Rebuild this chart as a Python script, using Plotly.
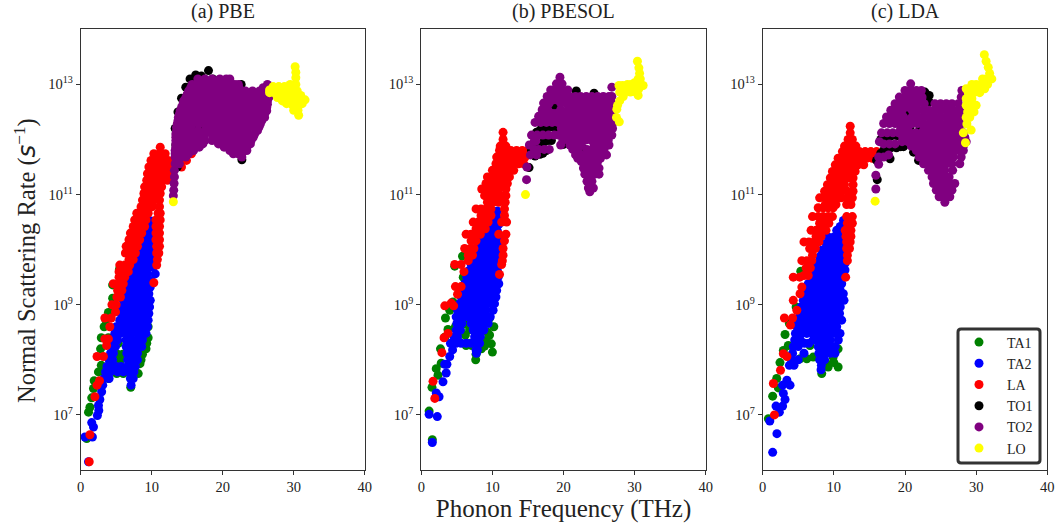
import plotly.graph_objects as go

# Each list holds rows: (log10 of rate, [frequencies in THz])
PBE_TA1 = [(6.57,[0.85]),(7.05,[1.1]),(7.14,[1.3]),(7.31,[1.55]),(7.48,[1.8]),(7.62,[1.9]),(7.78,[2.5,3.2]),(7.9,[2.9]),
 (8.2,[2.8,9.2]),(8.4,[2.9,3.9,9.5]),(8.6,[3.3,9.5]),(8.72,[3.55]),(8.86,[3.9,4.2]),(9.12,[4.5,4.8]),(9.36,[4.5,5]),(9.64,[5.45]),
 (7.66,[3.9]),(7.75,[5.07,6,8.1]),(7.5,[7.05]),(7.93,[8.35,5.4]),(8.1,[5.2,5.9,8.7]),(8.0,[5.6,8.5]),(8.3,[5.3,8.7,9.3])]
PBE_TA2 = [(10.52,[9.9]),(10.4,[9.4,9.9]),(10.28,[9,9.7]),(10.16,[8.6,9.4,10]),(10.04,[8.2,9,9.8]),(9.92,[7.9,8.7,9.5,10]),
 (9.8,[7.6,8.4,9.2,10]),(9.68,[7.2,8,8.8,9.6,10.2]),(9.56,[7,7.8,8.6,9.4,10.5]),(9.44,[6.8,7.6,8.4,9.2,9.9]),
 (9.32,[6.6,7.4,8.2,9,9.8]),(9.2,[6.3,7.1,7.9,8.7,9.6]),(9.08,[6,6.8,7.6,8.4,9.3,9.8]),(8.96,[5.8,6.6,7.4,8.2,9,9.7]),
 (8.84,[5.7,6.5,7.3,8.1,8.9,9.6]),(8.72,[5.5,6.3,7.1,7.9,8.7,9.5]),(8.6,[5,5.8,6.6,7.4,8.2,9,9.4]),
 (8.48,[4.8,5.6,6.4,7.2,8,8.8,9.2]),(8.36,[4.6,5.2,6.4,7.2,8,8.7]),(8.24,[4.4,4.9,6.4,7.1,7.9,8.6]),(8.12,[4.2,4.6,6.5,7.2,8]),
 (8.0,[4,4.5,6.6,7.3,8]),(7.88,[3.7,4.3,5,5.7,6.6,7.2,7.7]),(7.78,[3.5,4.2,5.2,6,6.8,7.5]),(7.66,[3.3,4,7,7.4]),(7.54,[3.1,7.1]),
 (7.42,[2.95]),(7.28,[2.7]),(7.17,[2.5]),(7.08,[2.55]),(6.99,[2.35]),(6.86,[1.55]),(6.78,[1.8]),(6.6,[0.6,1.65]),(6.15,[1.1])]
PBE_LA = [(11.86,[11.2]),(11.74,[10.3,11.1,11.9,15.6]),(11.62,[9.9,10.7,11.5,12.3,13,14.9]),(11.5,[9.6,10.4,11.2,12,12.8,14.2]),
 (11.38,[9.4,10.2,11,11.8,12.5]),(11.26,[9.3,10,10.8,11.6,12.2]),(11.14,[9,9.8,10.6,11.4]),(11.02,[8.9,9.7,10.5,11.2]),
 (10.9,[8.7,9.5,10.3,11.1]),(10.78,[8.5,9.3,10.1,11.1]),(10.66,[7.9,8.7,9.5,10.9,11.2]),(10.54,[7.6,8.4,9.2,10.6,11.2]),
 (10.42,[7.4,8.2,9,10.6,11.1]),(10.3,[7,7.8,8.6,10.6,11.1]),(10.18,[6.8,7.6,8.3,10.6,11.1]),(10.06,[6.4,7.2,8,10.7,11.1]),
 (9.94,[6.3,7,7.7,10.7,11]),(9.82,[6.8,7.4,10.8]),(9.72,[5.5,6.2,6.9,10.7]),(9.6,[5.4,6.1,6.7]),(9.5,[5.4,6.2]),
 (9.38,[4.6,5.5,6]),(9.4,[10.3]),(9.26,[5.2,5.8]),(9.14,[5.1,5.6]),(9.0,[4.4,5]),(8.87,[4.9]),(8.76,[3.4,4.3]),(8.6,[4.1]),
 (8.38,[3.4,3.9]),(8.26,[3.65]),(8.06,[2.3,3.2]),(7.62,[2.65]),(7.54,[2.3]),(7.33,[2]),(6.64,[1.3]),(6.15,[1.2])]
PBE_TO1 = [(12.2,[13.3,16.3]),(12.5,[13.7]),(12.75,[14.2]),(12.95,[14.8]),(13.1,[15.4,18.6]),(13.17,[16.2]),(13.15,[17]),(13.25,[18]),
 (13.08,[19.5]),(13.0,[22.6]),(11.63,[22.7]),(11.9,[13.4]),(11.5,[13.6]),(12.25,[17])]
PBE_TO2 = [(13.1,[16.5,17.5,18.5,19.6,20.5,21]),(13.0,[15.7,16.7,17.7,18.7,19.7,20.7,21.7,22.2,26.3]),
 (12.88,[15.2,16.2,17.2,18.2,19.2,20.2,21.2,22.2,23.2,24.2,25.2,26.2,26.7]),
 (12.76,[14.8,15.8,16.8,17.8,18.8,19.8,20.8,21.8,22.8,23.8,24.8,25.8,26.5]),
 (12.64,[14.4,15.4,16.4,17.4,18.4,19.4,20.4,21.4,22.4,23.4,24.4,25.4,26.3]),
 (12.52,[14,15,16,17,18,19,20,21,22,23,24,25,26.2]),
 (12.4,[13.75,14.7,15.7,16.7,17.7,18.7,19.7,20.7,21.7,22.7,23.7,24.7,25.9]),
 (12.28,[13.6,14.6,15.6,16.6,17.6,18.6,19.6,20.6,21.6,22.6,23.6,24.6,25.3]),
 (12.16,[13.5,14.5,15.5,16.5,17.5,18.5,19.5,20.5,21.5,22.5,23.5,24.9]),
 (12.04,[13.4,14.4,15.4,16.4,17.4,18.7,19.7,20.7,21.7,22.7,23.7,24.3]),
 (11.92,[13.4,14.3,15.2,16.2,17.2,19.4,20.4,21.4,22.4,23.4,23.9]),
 (11.8,[13.3,14.1,15,15.9,21,22,23.4]),(11.68,[13.3,14,14.8,22.7]),(11.56,[13.3,13.9]),(11.44,[13.2]),(11.32,[13.2]),
 (11.2,[13.15]),(11.08,[13.1]),(10.98,[13.05]),
 (13.06,[17,18,19,20,20.5]),(12.94,[15.5,16.5,17.5,18.5,19.5,20.5,21.5,22.3,25.7,26.5]),
 (12.82,[15,16,17,18,19,20,21,22,23,24,25,26,26.6]),
 (12.7,[14.5,15.5,16.5,17.5,18.5,19.5,20.5,21.5,22.5,23.5,24.5,25.5,26.3]),
 (12.58,[14.2,15.2,16.2,17.2,18.2,19.2,20.2,21.2,22.2,23.2,24.2,25.2,26.2]),
 (12.46,[13.9,14.9,15.9,16.9,17.9,18.9,19.9,20.9,21.9,22.9,23.9,24.9,25.9]),
 (12.34,[13.7,14.7,15.7,16.7,17.7,18.7,19.7,20.7,21.7,22.7,23.7,24.7,25.5]),
 (12.22,[13.5,14.5,15.5,17.7,18.5,19.5,20.5,21.5,22.5,23.5,24.5,25.1]),
 (12.1,[13.4,14.5,15.5,16.5,17.5,18.5,19.5,20.5,21.5,22.5,23.5,24.5]),
 (11.98,[13.4,14.5,15.5,16.5,17.5,18.5,19.5,20.5,21.5,22.5,23.5,24]),
 (11.86,[13.4,14.2,15.2,15.9,16.7,20.2,21,21.8,22.6,23.4]),(11.74,[13.3,14.3,15.2,21.5,22.2,22.7])]
PBE_LO = [(13.32,[30.2]),(13.22,[30.3]),(13.12,[30.3]),(13.0,[30.3,29.5]),(12.96,[28.7,27.9,27.1]),(12.9,[26.6,27.5,28.3,29.1,30]),
 (12.85,[26.6,27.2,28,28.8]),(12.88,[29.6,30.5]),(12.8,[31,29.7,30.3]),(12.72,[31.6,30.8,30.3]),(12.76,[27.7,28.5]),(12.75,[29.3,30]),
 (12.7,[28.4,29.1]),(12.65,[29,31.2]),(12.63,[29.8,30.6]),(12.58,[30.3]),(12.53,[30,30.6]),(12.44,[30.7]),(10.87,[13.05])]

SOL_TA1 = [(7.07,[1.1]),(6.55,[1.55]),(7.5,[1.5]),(7.84,[2.1]),(7.72,[2.35]),(7.94,[2.8]),(8.2,[2.7,8.45]),(8.41,[3.3]),(8.55,[3.75,6.8]),
 (8.76,[3.4,9.6]),(8.9,[4]),(9.05,[4.45]),(9.7,[4.7]),(9.88,[5.8]),(8.34,[5.2]),(8.26,[6.3,7.1]),(8.0,[7.65]),(8.35,[9.15,8.6]),
 (8.14,[10]),(8.29,[9.85]),(8.6,[10.2]),(8.65,[6.1]),(9.5,[5.9]),(8.5,[9.3,5.6]),(8.45,[9.6,6.2]),(8.25,[8.9]),(8.1,[7.7]),(8.3,[6.9]),(8.6,[4.8])]
SOL_TA2 = [(10.7,[10.7]),(10.58,[10.1,10.7]),(10.46,[9.6,10.4,10.9]),(10.34,[9.1,9.9,10.7]),(10.22,[8.7,9.5,10.3,10.9]),
 (10.1,[8.1,8.9,9.7,10.5,11]),(9.98,[7.7,8.5,9.3,10.1,10.9]),(9.86,[7.3,8.1,8.9,9.7,10.5,10.9]),(9.74,[7,7.8,8.6,9.4,10.2,10.8]),
 (9.62,[6.7,7.5,8.3,9.1,9.9,10.7]),(9.5,[6.4,7.2,8,8.8,9.6,10.4,10.8]),(9.38,[6.1,6.9,7.7,8.5,9.3,10.1,10.9]),
 (9.26,[5.9,6.7,7.5,8.3,9.1,9.9,10.6]),(9.14,[5.6,6.4,7.2,8,8.8,9.6,10.5]),(9.02,[5.4,6.2,7,7.8,8.6,9.4,10.3]),
 (8.9,[5.1,5.9,6.7,7.5,8.3,9.1,10.1]),(8.78,[4.9,5.7,6.5,7.3,8.1,8.9,9.7]),(8.66,[5,5.7,7,7.8,8.6,9.4]),(8.54,[4.9,5.5,7.3,8,8.8]),
 (8.42,[4.6,5.1,7.5,8.3]),(8.3,[4.1,4.9,5.6,6.3,7,7.6,8.2]),(8.18,[4.4,7.7,7.9]),(8.12,[7.75]),(8.06,[4]),(7.92,[3.3,3.6]),
 (7.76,[3.5]),(7.6,[3.05]),(7.4,[2.1]),(7.33,[2.5]),(7.01,[1.1]),(6.97,[2.25]),(6.5,[1.55])]
SOL_LA = [(12.13,[11.5]),(12.0,[11.5]),(11.88,[11.1,11.9]),(11.8,[11,11.8,12.6,13.4,14.2,15]),(11.68,[10.6,11.4,12.2,13,13.8,14.6]),
 (11.56,[10.5,11.3,12.1,12.9,13.7,14.4]),(11.44,[10,10.8,11.6,12.4,13]),(11.32,[9.3,10.1,10.9,11.7,12.4]),(11.2,[9.1,9.9,10.7,11.5,12.1]),
 (11.1,[8.5,9.3,10.1,10.9,11.9]),(10.98,[8.9,9.7,10.5,11.2,11.9]),(10.86,[9.3,10.1,10.9,11.8]),(10.74,[7.7,8.4,9.1,9.8,11.7]),
 (10.62,[8.4,9.1,9.8,11.7]),(10.5,[7.3,8,8.8,9.4,11.3,12]),(10.38,[7.7,8.4,9]),(10.28,[6.3,7,7.7,8.3,10.9,11.9]),(10.16,[7,7.7,11.7]),
 (10.02,[6.1,6.9,7.4,11.5]),(9.9,[6.6,7.2,11.5]),(9.8,[6.6,11.4]),(9.73,[4.7,5.6,11.3]),(9.6,[6]),(9.55,[11]),(9.33,[4.8,5.6]),
 (9.19,[5.1]),(9.03,[4.2]),(8.98,[3.3,4.55]),(8.48,[3.75]),(8.4,[3.2]),(8.13,[2.9]),(7.61,[1.65]),(7.3,[1.9])]
SOL_TO1 = [(12.07,[15.7]),(12.13,[16.2]),(12.17,[16.7,17.2]),(12.23,[17.8,18.3]),(12.21,[18.8]),(11.8,[15.5,17.6]),(11.86,[16.1]),(11.92,[16.7]),
 (11.95,[17.2]),(11.98,[17.8,18.3]),(11.73,[16.7]),(11.75,[17.1]),(11.7,[16]),(11.91,[20]),(12.88,[21.8]),(12.84,[24.3]),(11.83,[22.8]),
 (12.04,[23.7]),(12.58,[18.8]),(12.55,[19.2]),(12.44,[20]),(11.49,[15.15])]
SOL_TO2 = [(13.13,[19.5]),(13.01,[19,19.8]),(12.9,[18.2,19,19.8,20.6]),(12.95,[26.8]),
 (12.78,[17.7,18.5,19.3,20.1,20.9,21.7,22.4,23.2,24,24.8,25.6,26.4,26.8]),(12.72,[18.6,19]),
 (12.66,[17.2,18,19.6,20.4,21.2,22,22.8,23.6,24.4,25.2,26,26.8]),
 (12.54,[17,17.8,19.6,20.6,21.4,22.2,23,23.8,24.6,25.4,26.2,26.9]),(12.47,[18.5,19,20.1]),
 (12.42,[16.5,17.3,18.1,18.9,20.7,21.5,22.3,23.1,23.9,24.7,25.5,26.3,27]),(12.38,[19.6,20.2]),
 (12.31,[16,16.8,17.6,18.4,19.2,20,20.8,21.6,22.4,23.2,24,24.8,25.6,26.4,27]),
 (12.08,[15.5,16.3,17.1,17.9,18.7,19.3,20.1,20.9,21.7,22.5,23.3,24.1,24.9,25.7,26.5,26.8]),
 (12.2,[19.7,20.5,21.3,22.1,22.9,23.7,24.5,25.3,26.1,26.9]),(11.99,[19.9,20.7,21.5,22.3,23.1,23.9,24.7,25.5,26.3]),
 (11.9,[15.2,19.6,20.9,21.7,22.5,24.3,25.1,25.9,26.4]),(11.97,[15.9,16.1]),(11.82,[15.9,16.5,17.3,18,21.3,22.1,23.3,24.1,24.9,25.7]),
 (11.72,[15.35,16.2,21.7,22.5,23.3,24.1,25,26.05]),(11.66,[22,22.8,23.6,24.4,25.2]),(11.6,[22.5,23.3,24.1,24.8]),(11.48,[22.8,23.5,24.2,25]),
 (11.37,[23,23.7,24.4,25]),(11.24,[23.3,24]),(11.12,[23.5,24.2]),(11.05,[23.7]),(11.5,[14.85]),(11.27,[14.8])]
SOL_LO = [(13.42,[30.4]),(13.3,[30.6]),(13.2,[30.7]),(13.1,[30.8,30.5]),(12.98,[31.2,27.8,28.3]),(13.0,[30.7,29.5,29]),(13.03,[30]),
 (12.92,[28.2,29,29.8,30.6]),(12.86,[27.9,28.6,29.4,30.2]),(12.8,[30.5]),(12.78,[28.4]),(12.7,[27.9]),(12.62,[27.6]),(12.55,[27.5]),
 (12.4,[27.45]),(12.32,[27.85]),(11.0,[14.65])]

LDA_TA1 = [(6.93,[0.8]),(7.34,[1.4]),(7.49,[2.2]),(7.66,[1.97]),(7.95,[2.43]),(8.17,[2.9]),(8.46,[3.14]),(8.26,[3.6,6.65]),(8.66,[3.75]),
 (8.96,[4.7]),(9.61,[5.35]),(9.2,[5.7]),(7.75,[8.3]),(8.02,[5.25,6.2]),(8.05,[7.1,9.9]),(7.87,[9.2,10.6]),(8.2,[10.6]),(7.95,[10,8.9])]
LDA_TA2 = [(10.53,[11.35]),(10.42,[10.9]),(10.35,[10.4,11.2]),(10.23,[9.2,10,10.8,11.3]),(10.11,[8.9,9.7,10.5,11.3]),
 (9.99,[8.3,9.1,9.9,10.7,11.5]),(9.87,[8,8.8,9.6,10.4,11.2,11.57]),(9.75,[7.35,8.1,8.9,9.7,10.5,11.3,11.57]),
 (9.63,[7.1,7.9,8.7,9.5,10.3,11.1,11.57]),(9.51,[6.8,7.6,8.4,9.2,10,10.8,11.3]),(9.38,[6.4,7.2,8,8.8,9.6,10.4,11.1]),
 (9.26,[6.1,6.9,7.7,8.5,9.3,10.1,10.9]),(9.2,[11.33]),(9.17,[6,6.8,7.6,8.4,9.2,10,10.8]),(9.08,[5.7,6.5,7.3,8.1,8.9,9.7,10.5,11.43]),
 (8.96,[5.4,6.2,7,7.8,8.6,9.4,10.2,10.9]),(8.84,[5.2,6,6.8,7.6,8.4,9.2,10,10.8]),(8.72,[4.9,5.7,6.5,7.3,8.1,8.9,9.7,10.5,11.1]),
 (8.6,[4.8,5.6,6.4,7.2,8,8.8,9.6,10.4]),(8.48,[4.6,5.4,6.2,7,7.8,8.6,9.4,10.2,10.87]),(8.36,[4.5,5.3,7.1,7.9,8.7,9.5,10.63]),
 (8.3,[5.9,6.5]),(8.24,[4.3,5,7.8,8.6,9.4,10.2]),(8.12,[4.2,5.8,7.9,8.7,9.5,10.16]),(8.0,[4.07,5,8,8.7]),(7.9,[3.75,4.4,8.25]),(7.82,[8.2]),
 (7.63,[3.4]),(7.54,[2.8,3.84]),(7.39,[2.9]),(7.28,[3.14]),(7.16,[1.87,2.8]),(7.05,[2.34]),(6.89,[1]),(6.66,[2]),(6.32,[1.4])]
LDA_LA = [(12.24,[12.3]),(12.12,[12.3]),(12.0,[12,12.6]),(11.88,[11.5,12.3,13.1]),(11.78,[11.2,12,12.8,13.6,14.4,15.2,16]),
 (11.66,[10.6,11.4,12.2,13,13.8,14.6,15.4]),(11.54,[10.2,11,11.8,12.6,13.4,14.2]),(11.42,[9.8,10.6,11.4,12.2,13]),
 (11.3,[9.5,10.3,11.1,11.9,12.7]),(11.18,[9.1,9.9,10.7,11.5,12.7]),(11.06,[8.7,9.5,10.3,11.1,11.9,12.7]),
 (10.94,[8,8.8,9.6,10.4,11,11.9,12.6]),(10.82,[8.8,9.6,10.3,11.8,12.4]),(10.76,[7.8,8.5,9.2,9.9]),(10.6,[7,7.8,8.5,9.2,9.8,11.8,12.6]),
 (10.48,[8,8.7,9.3,11.9,12.6]),(10.35,[6.8,7.5,8.2,8.9,11.6,12.4]),(10.24,[7.5,8.2,11.7,12.4]),(10.14,[5.8,6.5,7.2,7.9,11.8,12.3]),
 (10.02,[6.6,7.4,11.8,12.2]),(9.9,[7,11.9]),(9.8,[5.5,6.2,6.9,11.9]),(9.67,[6.1,6.7]),(9.53,[5.8,6.4]),(9.5,[4.3,5.2,11.66]),(9.32,[5.5]),
 (9.2,[5.25]),(9.08,[4.3]),(8.9,[4.8]),(8.76,[3.05,4.2]),(8.63,[3.9]),(8.11,[2.9]),(8.06,[3.4]),(7.81,[2.5]),(7.57,[1.5]),(7.0,[1.65])]
LDA_TO1 = [(12.8,[23.4]),(12.68,[23.4]),(12.86,[22.8]),(11.27,[16.1]),(11.62,[16,21.9]),(12.04,[17.4]),(12.0,[16.6]),(12.02,[17]),(12.06,[18,19.2]),
 (12.07,[18.8]),(11.83,[17.4]),(11.75,[16.6]),(11.8,[17]),(11.85,[18,18.8]),(11.87,[19.8,19.4]),(11.65,[17.9]),(11.77,[21.2]),(12.47,[20.5]),
 (12.23,[20.7]),(12.21,[22.1])]
LDA_TO2 = [(13.01,[20.8]),(12.89,[20,20.8,21.6,22.3,28]),(12.77,[19.2,20,20.8,21.6,22.4,27.9]),
 (12.65,[18.6,19.4,20.2,21,21.8,22.7,24.2,25,25.8,26.6,27.5]),(12.59,[20.4]),
 (12.53,[18,18.8,19.6,21,21.8,22.6,23.4,24.2,25,25.8,26.6,27.4,28]),
 (12.41,[17.4,18.2,19,19.8,21,21.8,22.6,23.4,24.2,25,25.8,26.6,27.4,28]),(12.35,[20.4]),
 (12.29,[17,17.8,18.6,19.4,20.2,21,21.8,22.6,23.4,24.2,25,25.8,26.6,27.4,28]),
 (12.2,[19.4,20,20.4,22.7,23.5,24.3,25.1,25.9,26.7,27.5]),
 (12.12,[16.7,17.5,18.3,19.1,19.9,20.7,21.5,22.3,23.1,23.9,24.7,25.5,26.3,27.1,27.9,28.2]),
 (12.04,[19.7,20.5,21.3,22.1,22.9,23.7,24.5,25.3,26.1,26.9,27.7,28.4]),
 (11.96,[16.4,19.6,20.4,21.2,22,22.8,23.6,24.4,25.2,26,26.8,27.6,28.6]),(11.92,[17,17.8,18.6]),
 (11.88,[20.9,21.7,22.5,23.3,24.1,24.9,25.7,26.5,27.3,28.2]),
 (11.8,[21.6,22.4,23.2,24,24.8,25.6,26.4,27.2,28.2]),(11.72,[17.7]),(11.68,[16.3,17,22,22.8,23.6,24.4,25.2,26,26.8,27.9]),(11.55,[16.3]),
 (11.56,[22.6,23.4,24.2,25,25.8,26.6,27.7]),(11.44,[23.3,24,24.8,25.6,26.7]),(11.35,[15.9]),(11.32,[23.8,24.6,25.4,26.2]),
 (11.2,[24,24.8,25.6,26.4,27]),(11.1,[15.9]),(11.08,[24.4,25.2,26,26.6]),(10.96,[24.8,25.6,26.3]),(10.86,[25.6])]
LDA_LO = [(13.54,[31.15]),(13.42,[31.4]),(13.31,[31.7]),(13.2,[31.9]),(13.1,[32.2,31.4,30.9]),(13.0,[31.6,30.8,30,29.4]),(12.92,[31.2,29.3,30.2,28.6]),
 (12.85,[28.9,29.7,30.5]),(12.74,[28.6,29.4]),(12.62,[28.6,29.5,30]),(12.5,[28.8,29.7]),(12.4,[29.1,28.6]),(12.28,[28.7]),(12.17,[29.3]),
 (12.12,[28.2]),(11.94,[28.5]),(10.88,[15.8])]

MODE_NAMES = ["TA1", "TA2", "LA", "TO1", "TO2", "LO"]
MODE_COLORS = ["#008000", "#0000ff", "#ff0000", "#000000", "#800080", "#ffff00"]
PANELS = [
    ("(a) PBE", [PBE_TA1, PBE_TA2, PBE_LA, PBE_TO1, PBE_TO2, PBE_LO]),
    ("(b) PBESOL", [SOL_TA1, SOL_TA2, SOL_LA, SOL_TO1, SOL_TO2, SOL_LO]),
    ("(c) LDA", [LDA_TA1, LDA_TA2, LDA_LA, LDA_TO1, LDA_TO2, LDA_LO]),
]
X_TICKS = [0, 10, 20, 30, 40]
Y_TICKS = [1e7, 1e9, 1e11, 1e13]
Y_LABELS = ["10<sup>7</sup>", "10<sup>9</sup>", "10<sup>11</sup>", "10<sup>13</sup>"]

W, H = 1057, 526
FONT = "Liberation Serif"
X_SPANS = [(80.7, 364.7), (421.3, 705.7), (762.7, 1047.3)]
Y_SPAN = (29.3, 470.0)


def expand(rows):
    xs, ys = [], []
    for ly, row in rows:
        for x in row:
            xs.append(x)
            ys.append(10 ** ly)
    return xs, ys


fig = go.Figure()
for p, (title, series) in enumerate(PANELS):
    sfx = "" if p == 0 else str(p + 1)
    for name, color, rows in zip(MODE_NAMES, MODE_COLORS, series):
        xs, ys = expand(rows)
        fig.add_trace(go.Scatter(
            x=xs, y=ys, mode="markers", name=name, legendgroup=name, showlegend=p == 2,
            marker=dict(color=color, size=9, line=dict(width=0)),
            xaxis="x" + sfx, yaxis="y" + sfx,
        ))
    l, r = X_SPANS[p]
    axis_common = dict(showgrid=False, zeroline=False, showline=True, mirror=True, linecolor="#333333",
                       linewidth=1, ticks="outside", ticklen=4, tickwidth=1, tickcolor="#333333",
                       tickfont=dict(family=FONT, size=14.5, color="#222222"))
    xa = dict(domain=[l / W, r / W], range=[0, 40], tickmode="array", tickvals=X_TICKS, anchor="y" + sfx, **axis_common)
    ya = dict(domain=[1 - Y_SPAN[1] / H, 1 - Y_SPAN[0] / H], type="log", range=[6, 14], tickmode="array",
              tickvals=Y_TICKS, ticktext=Y_LABELS, anchor="x" + sfx, **axis_common)
    if p == 1:
        xa["title"] = dict(text="Phonon Frequency (THz)", font=dict(family=FONT, size=25, color="#222222"), standoff=3)
    fig.update_layout({"xaxis" + sfx: xa, "yaxis" + sfx: ya})
    fig.add_annotation(text=title, xref="paper", yref="paper", x=(l + r) / 2 / W, y=1 - 25 / H, xanchor="center", yanchor="bottom",
                       showarrow=False, font=dict(family=FONT, size=20, color="#222222"))

fig.add_annotation(text='Normal Scattering Rate (<i><span style="font-family:DejaVu Sans">s</span></i><sup>−1</sup>)',
                   xref="paper", yref="paper", x=25 / W, y=1 - 261 / H, textangle=-90, xanchor="center", yanchor="middle",
                   showarrow=False, font=dict(family=FONT, size=24.5, color="#222222"))

fig.add_shape(type="path", xref="paper", yref="paper", line=dict(color="#333333", width=3),
              path="M %f %f L %f %f Q %f %f %f %f L %f %f Q %f %f %f %f L %f %f Q %f %f %f %f L %f %f Q %f %f %f %f Z" % (
                  961 / W, 1 - 329 / H, 1037 / W, 1 - 329 / H, 1040 / W, 1 - 329 / H, 1040 / W, 1 - 332 / H,
                  1040 / W, 1 - 460 / H, 1040 / W, 1 - 463 / H, 1037 / W, 1 - 463 / H,
                  961 / W, 1 - 463 / H, 958 / W, 1 - 463 / H, 958 / W, 1 - 460 / H,
                  958 / W, 1 - 332 / H, 958 / W, 1 - 329 / H, 961 / W, 1 - 329 / H))

fig.update_layout(
    width=W, height=H, margin=dict(l=0, r=0, t=0, b=0, autoexpand=False), paper_bgcolor="white", plot_bgcolor="white",
    font=dict(family=FONT, color="#222222"),
    legend=dict(x=951 / W, y=1 - 326.5 / H, xanchor="left", yanchor="top",
                bgcolor="rgba(0,0,0,0)", borderwidth=0, itemwidth=46, entrywidth=34, entrywidthmode="pixels",
                font=dict(family=FONT, size=14, color="#222222"), tracegroupgap=0, itemclick=False),
)
fig.write_html("out.html", config={"displayModeBar": False}, post_script="document.body.style.margin='0';")
